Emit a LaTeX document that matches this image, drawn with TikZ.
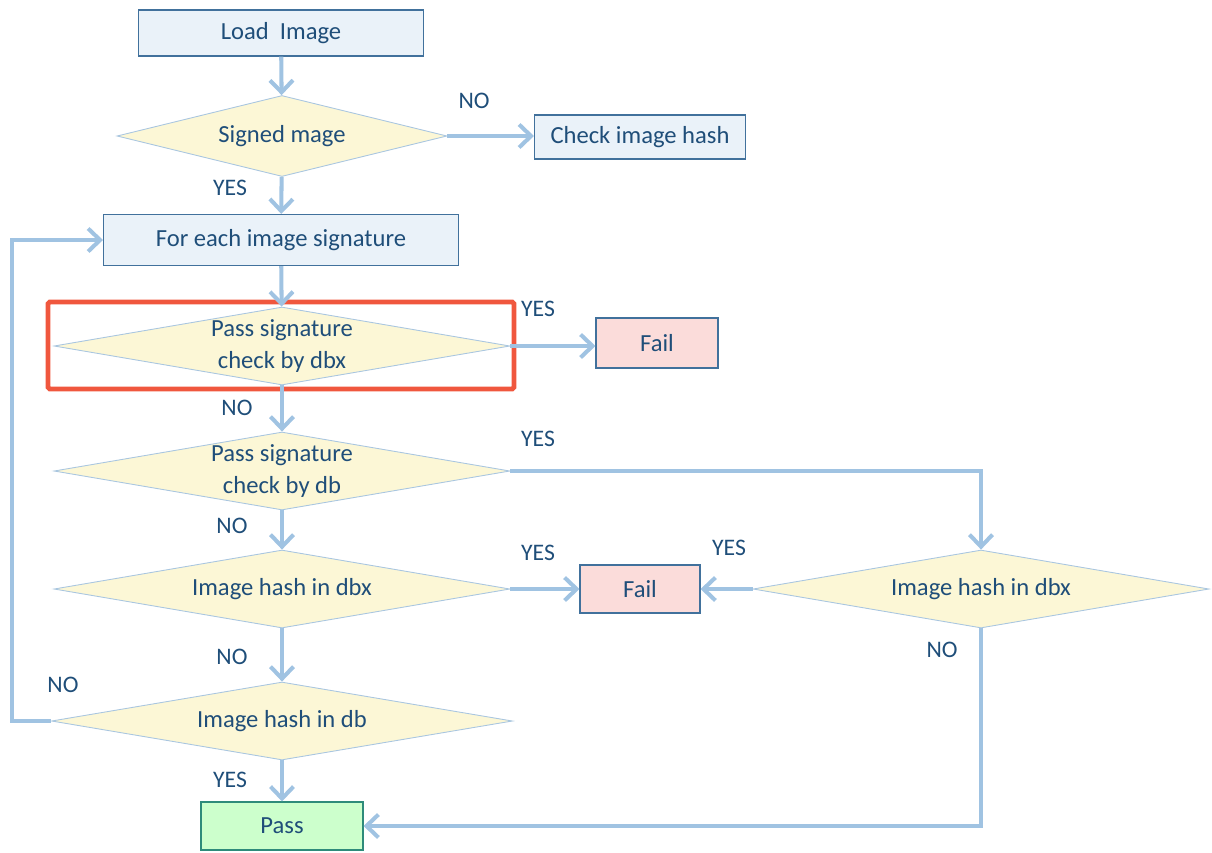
\documentclass[tikz,border=0pt]{standalone}
\usepackage{fontspec}
\setmainfont{Carlito}
\usetikzlibrary{arrows.meta}
\usetikzlibrary{shapes.geometric}

\definecolor{txtblue}{HTML}{1F4E79}
\definecolor{boxline}{HTML}{41719C}
\definecolor{boxfill}{HTML}{EAF2F9}
\definecolor{decfill}{HTML}{FCF7D6}
\definecolor{decline}{HTML}{A9C6E0}
\definecolor{failfill}{HTML}{FBDCDA}
\definecolor{passfill}{HTML}{CCFFCC}
\definecolor{passline}{HTML}{2E8B7A}
\definecolor{flowblue}{HTML}{A0C3E2}
\definecolor{markred}{HTML}{F0573E}

\begin{document}
\begin{tikzpicture}[x=0.02cm, y=-0.02cm,
    stepbox/.style={rectangle, draw=boxline, fill=boxfill, line width=0.6pt, inner sep=0pt, text=txtblue, font=\fontsize{14pt}{17pt}\selectfont},
    decision/.style={diamond, draw=decline, fill=decfill, line width=0.5pt, inner sep=0pt, aspect=5.8, minimum width=9.12cm, minimum height=1.56cm, align=center, text=txtblue, font=\fontsize{14pt}{18.5pt}\selectfont},
    flow/.style={draw=flowblue, line width=2.3pt, -{Straight Barb[length=2.4mm, width=4.6mm]}},
    answer/.style={text=txtblue, font=\fontsize{13.5pt}{16pt}\selectfont, inner sep=0pt}]
    \useasboundingbox (0,0) rectangle (1212,852);

    \node[stepbox, minimum width=5.7cm, minimum height=0.92cm] (load) at (281,33) {Load~~Image};
    \node[decision, minimum width=6.6cm, minimum height=1.62cm] (signed) at (282,136) {Signed mage};
    \node[stepbox, minimum width=4.22cm, minimum height=0.88cm] (hashchk) at (640,137) {Check image hash};
    \node[stepbox, minimum width=7.1cm, minimum height=1.02cm] (foreach) at (281,240) {For each image signature};
    \node[decision] (sigdbx) at (282,346) {Pass signature\\check by dbx};
    \node[stepbox, fill=failfill, minimum width=2.44cm, minimum height=1cm] (fail1) at (657,343) {Fail};
    \node[decision] (sigdb) at (282,471) {Pass signature\\check by db};
    \node[decision] (hashdbx) at (282,589) {Image hash in dbx};
    \node[stepbox, fill=failfill, minimum width=2.4cm, minimum height=0.96cm] (fail2) at (640,589) {Fail};
    \node[decision] (rhashdbx) at (981,589) {Image hash in dbx};
    \node[decision, minimum width=9.22cm] (hashdb) at (282,721) {Image hash in db};
    \node[stepbox, draw=passline, fill=passfill, minimum width=3.24cm, minimum height=0.96cm] (pass) at (282,826) {Pass};
    \coordinate (loopx) at (12,0);

    \draw[markred, line width=2.8pt, rounded corners=1pt] (48,302) rectangle (514,389);

    \draw[flow] (load) -- (signed);
    \draw[flow] (signed.east) -- (signed.east -| hashchk.west);
    \draw[flow] (signed) -- (foreach);
    \draw[flow] (foreach) -- (sigdbx);
    \draw[flow] (sigdbx.east) -- (sigdbx.east -| fail1.west);
    \draw[flow] (sigdbx) -- (sigdb);
    \draw[flow] (sigdb.east) -| (rhashdbx.north);
    \draw[flow] (sigdb) -- (hashdbx);
    \draw[flow] (hashdbx.east) -- (fail2.west);
    \draw[flow] (rhashdbx.west) -- (fail2.east);
    \draw[flow] (hashdbx) -- (hashdb);
    \draw[flow] (hashdb.west) -- (hashdb.west -| loopx) |- (foreach.west);
    \draw[flow] (hashdb) -- (pass);
    \draw[flow] (rhashdbx.south) |- (pass.east);

    \node[answer] (no1) at (474,101) {NO};
    \node[answer] (yes1) at (230,188) {YES};
    \node[answer] (yes2) at (538,309) {YES};
    \node[answer] (no2) at (237,408) {NO};
    \node[answer] (yes3) at (538,439) {YES};
    \node[answer] (no3) at (232,526) {NO};
    \node[answer] (yes4) at (538,553) {YES};
    \node[answer] (yes5) at (729,548) {YES};
    \node[answer] (no4) at (942,650) {NO};
    \node[answer] (no5) at (232,657) {NO};
    \node[answer] (no6) at (63,685) {NO};
    \node[answer] (yes6) at (230,780) {YES};
  \end{tikzpicture}
\end{document}
